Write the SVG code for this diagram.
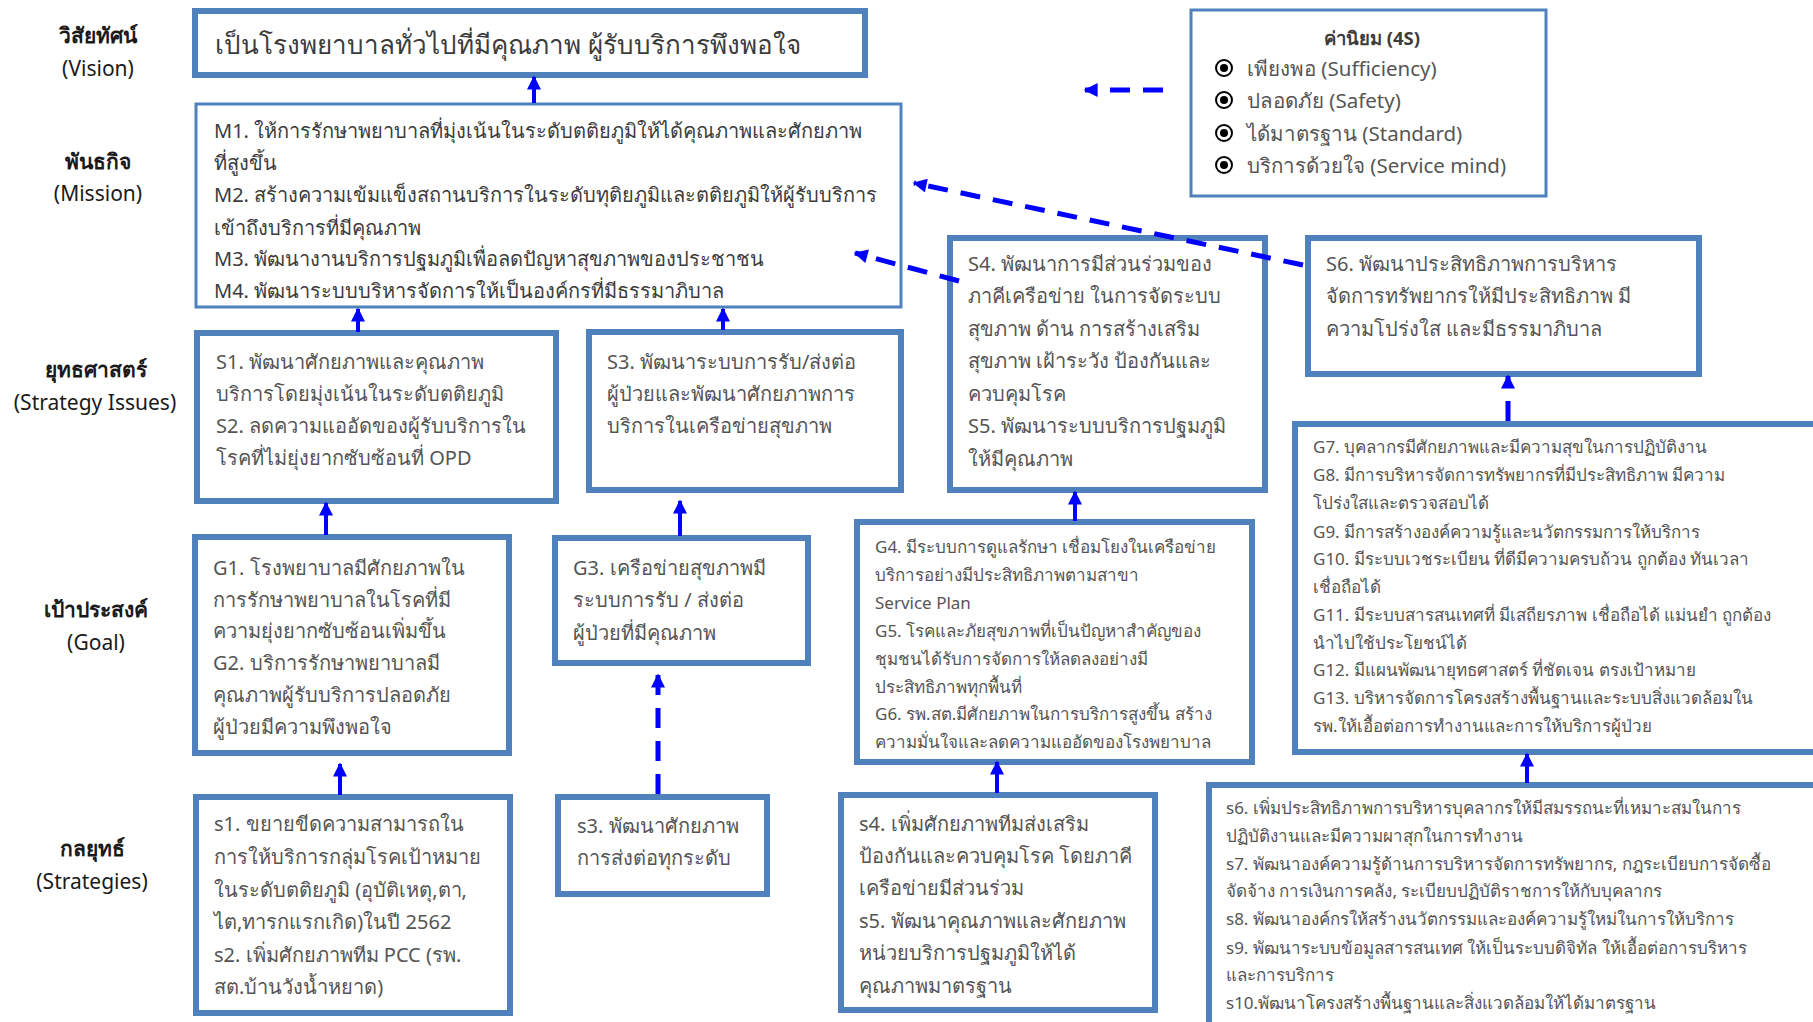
<svg xmlns="http://www.w3.org/2000/svg" width="1813" height="1022" viewBox="0 0 1813 1022">
<defs>
<style>
.box{fill:#fff;stroke:#4f81bd;stroke-width:6}
.thin{fill:#fff;stroke:#4f81bd;stroke-width:3}
.lbl{font-family:"Noto Sans","DejaVu Sans",sans-serif;font-size:21px;fill:#1a1a1a;text-anchor:middle;dominant-baseline:central}
.lb{font-weight:bold}
.t{font-family:"Noto Sans","DejaVu Sans",sans-serif;font-size:20px;fill:#555;dominant-baseline:central}
.tm{fill:#3c3c3c}
.ts{font-size:17px}
.con{fill:none;stroke:#0000ff;stroke-width:4}
.dash{fill:none;stroke:#0000ff;stroke-width:5;stroke-dasharray:20 13}
</style>
<marker id="ah" viewBox="0 0 10 10" refX="9" refY="5" markerUnits="userSpaceOnUse" markerWidth="15" markerHeight="14" orient="auto">
<path d="M0,0 L10,5 L0,10 z" fill="#0000ff"/>
</marker>
</defs>
<rect width="1813" height="1022" fill="#fff"/>

<g id="labels">
<text class="lbl lb" x="98" y="35">วิสัยทัศน์</text>
<text class="lbl" x="98" y="68">(Vision)</text>
<text class="lbl lb" x="98" y="161">พันธกิจ</text>
<text class="lbl" x="98" y="193">(Mission)</text>
<text class="lbl lb" x="96" y="369">ยุทธศาสตร์</text>
<text class="lbl" x="95" y="402">(Strategy Issues)</text>
<text class="lbl lb" x="96" y="609">เป้าประสงค์</text>
<text class="lbl" x="96" y="642">(Goal)</text>
<text class="lbl lb" x="92" y="848">กลยุทธ์</text>
<text class="lbl" x="92" y="881">(Strategies)</text>
</g>

<g id="vision">
<rect class="box" x="195" y="11" width="670" height="64"/>
<text class="t tm" x="215" y="44" style="font-size:26px">เป็นโรงพยาบาลทั่วไปที่มีคุณภาพ ผู้รับบริการพึงพอใจ</text>
</g>

<g id="mission">
<rect class="thin" x="196" y="104" width="705" height="203"/>
<text class="t tm"><tspan x="214" y="130">M1. ให้การรักษาพยาบาลที่มุ่งเน้นในระดับตติยภูมิให้ได้คุณภาพและศักยภาพ</tspan><tspan x="214" y="162">ที่สูงขึ้น</tspan><tspan x="214" y="194">M2. สร้างความเข้มแข็งสถานบริการในระดับทุติยภูมิและตติยภูมิให้ผู้รับบริการ</tspan><tspan x="214" y="227">เข้าถึงบริการที่มีคุณภาพ</tspan><tspan x="214" y="258">M3. พัฒนางานบริการปฐมภูมิเพื่อลดปัญหาสุขภาพของประชาชน</tspan><tspan x="214" y="290">M4. พัฒนาระบบบริหารจัดการให้เป็นองค์กรที่มีธรรมาภิบาล</tspan></text>
</g>

<g id="values">
<rect class="thin" x="1191" y="10" width="355" height="186"/>
<text class="t tm" x="1372" y="37" style="font-size:18.5px;font-weight:bold;text-anchor:middle">ค่านิยม (4S)</text>
<g fill="#fff" stroke="#000" stroke-width="2">
<circle cx="1224" cy="68" r="8"/><circle cx="1224" cy="100" r="8"/><circle cx="1224" cy="133" r="8"/><circle cx="1224" cy="165" r="8"/>
</g>
<g fill="#000">
<circle cx="1224" cy="68" r="4"/><circle cx="1224" cy="100" r="4"/><circle cx="1224" cy="133" r="4"/><circle cx="1224" cy="165" r="4"/>
</g>
<text class="t" style="font-size:20.5px"><tspan x="1247" y="68">เพียงพอ (Sufficiency)</tspan><tspan x="1247" y="100">ปลอดภัย (Safety)</tspan><tspan x="1247" y="133">ได้มาตรฐาน (Standard)</tspan><tspan x="1247" y="165">บริการด้วยใจ (Service mind)</tspan></text>
</g>

<g id="s1s2">
<rect class="box" x="197" y="333" width="359" height="168"/>
<text class="t"><tspan x="216" y="361">S1. พัฒนาศักยภาพและคุณภาพ</tspan><tspan x="216" y="393">บริการโดยมุ่งเน้นในระดับตติยภูมิ</tspan><tspan x="216" y="425">S2. ลดความแออัดของผู้รับบริการใน</tspan><tspan x="216" y="457">โรคที่ไม่ยุ่งยากซับซ้อนที่ OPD</tspan></text>
</g>

<g id="s3">
<rect class="box" x="589" y="332" width="312" height="158"/>
<text class="t"><tspan x="607" y="361">S3. พัฒนาระบบการรับ/ส่งต่อ</tspan><tspan x="607" y="393">ผู้ป่วยและพัฒนาศักยภาพการ</tspan><tspan x="607" y="425">บริการในเครือข่ายสุขภาพ</tspan></text>
</g>

<g id="s4s5">
<rect class="box" x="950" y="238" width="315" height="252"/>
<text class="t"><tspan x="968" y="263">S4. พัฒนาการมีส่วนร่วมของ</tspan><tspan x="968" y="295">ภาคีเครือข่าย ในการจัดระบบ</tspan><tspan x="968" y="328">สุขภาพ ด้าน การสร้างเสริม</tspan><tspan x="968" y="360">สุขภาพ เฝ้าระวัง ป้องกันและ</tspan><tspan x="968" y="393">ควบคุมโรค</tspan><tspan x="968" y="425">S5. พัฒนาระบบบริการปฐมภูมิ</tspan><tspan x="968" y="458">ให้มีคุณภาพ</tspan></text>
</g>

<g id="s6">
<rect class="box" x="1308" y="238" width="391" height="136"/>
<text class="t"><tspan x="1326" y="263">S6. พัฒนาประสิทธิภาพการบริหาร</tspan><tspan x="1326" y="295">จัดการทรัพยากรให้มีประสิทธิภาพ มี</tspan><tspan x="1326" y="328">ความโปร่งใส และมีธรรมาภิบาล</tspan></text>
</g>

<g id="g1g2">
<rect class="box" x="195" y="537" width="314" height="216"/>
<text class="t"><tspan x="213" y="567">G1. โรงพยาบาลมีศักยภาพใน</tspan><tspan x="213" y="599">การรักษาพยาบาลในโรคที่มี</tspan><tspan x="213" y="630">ความยุ่งยากซับซ้อนเพิ่มขึ้น</tspan><tspan x="213" y="662">G2. บริการรักษาพยาบาลมี</tspan><tspan x="213" y="694">คุณภาพผู้รับบริการปลอดภัย</tspan><tspan x="213" y="726">ผู้ป่วยมีความพึงพอใจ</tspan></text>
</g>

<g id="g3">
<rect class="box" x="555" y="538" width="253" height="125"/>
<text class="t"><tspan x="573" y="567">G3. เครือข่ายสุขภาพมี</tspan><tspan x="573" y="599">ระบบการรับ / ส่งต่อ</tspan><tspan x="573" y="632">ผู้ป่วยที่มีคุณภาพ</tspan></text>
</g>

<g id="g4g6">
<rect class="box" x="857" y="522" width="395" height="240"/>
<text class="t ts"><tspan x="875" y="546">G4. มีระบบการดูแลรักษา เชื่อมโยงในเครือข่าย</tspan><tspan x="875" y="574">บริการอย่างมีประสิทธิภาพตามสาขา</tspan><tspan x="875" y="602">Service Plan</tspan><tspan x="875" y="630">G5. โรคและภัยสุขภาพที่เป็นปัญหาสำคัญของ</tspan><tspan x="875" y="658">ชุมชนได้รับการจัดการให้ลดลงอย่างมี</tspan><tspan x="875" y="686">ประสิทธิภาพทุกพื้นที่</tspan><tspan x="875" y="713">G6. รพ.สต.มีศักยภาพในการบริการสูงขึ้น สร้าง</tspan><tspan x="875" y="741">ความมั่นใจและลดความแออัดของโรงพยาบาล</tspan></text>
</g>

<g id="g7g13">
<rect class="box" x="1295" y="424" width="530" height="328"/>
<text class="t ts"><tspan x="1313" y="446">G7. บุคลากรมีศักยภาพและมีความสุขในการปฏิบัติงาน</tspan><tspan x="1313" y="474">G8. มีการบริหารจัดการทรัพยากรที่มีประสิทธิภาพ มีความ</tspan><tspan x="1313" y="502">โปร่งใสและตรวจสอบได้</tspan><tspan x="1313" y="531">G9. มีการสร้างองค์ความรู้และนวัตกรรมการให้บริการ</tspan><tspan x="1313" y="558">G10. มีระบบเวชระเบียน ที่ดีมีความครบถ้วน ถูกต้อง ทันเวลา</tspan><tspan x="1313" y="586">เชื่อถือได้</tspan><tspan x="1313" y="614">G11. มีระบบสารสนเทศที่ มีเสถียรภาพ เชื่อถือได้ แม่นยำ ถูกต้อง</tspan><tspan x="1313" y="642">นำไปใช้ประโยชน์ได้</tspan><tspan x="1313" y="669">G12. มีแผนพัฒนายุทธศาสตร์ ที่ชัดเจน ตรงเป้าหมาย</tspan><tspan x="1313" y="697">G13. บริหารจัดการโครงสร้างพื้นฐานและระบบสิ่งแวดล้อมใน</tspan><tspan x="1313" y="725">รพ.ให้เอื้อต่อการทำงานและการให้บริการผู้ป่วย</tspan></text>
</g>

<g id="st1st2">
<rect class="box" x="196" y="797" width="314" height="216"/>
<text class="t"><tspan x="214" y="823">s1. ขยายขีดความสามารถใน</tspan><tspan x="214" y="856">การให้บริการกลุ่มโรคเป้าหมาย</tspan><tspan x="214" y="889">ในระดับตติยภูมิ (อุบัติเหตุ,ตา,</tspan><tspan x="214" y="921">ไต,ทารกแรกเกิด)ในปี 2562</tspan><tspan x="214" y="954">s2. เพิ่มศักยภาพทีม PCC (รพ.</tspan><tspan x="214" y="986">สต.บ้านวังน้ำหยาด)</tspan></text>
</g>

<g id="st3">
<rect class="box" x="558" y="797" width="209" height="97"/>
<text class="t"><tspan x="577" y="825">s3. พัฒนาศักยภาพ</tspan><tspan x="577" y="857">การส่งต่อทุกระดับ</tspan></text>
</g>

<g id="st4st5">
<rect class="box" x="841" y="795" width="314" height="215"/>
<text class="t"><tspan x="859" y="823">s4. เพิ่มศักยภาพทีมส่งเสริม</tspan><tspan x="859" y="855">ป้องกันและควบคุมโรค โดยภาคี</tspan><tspan x="859" y="887">เครือข่ายมีส่วนร่วม</tspan><tspan x="859" y="920">s5. พัฒนาคุณภาพและศักยภาพ</tspan><tspan x="859" y="952">หน่วยบริการปฐมภูมิให้ได้</tspan><tspan x="859" y="985">คุณภาพมาตรฐาน</tspan></text>
</g>

<g id="st6st10">
<rect class="box" x="1209" y="785" width="620" height="260"/>
<text class="t ts"><tspan x="1226" y="807">s6. เพิ่มประสิทธิภาพการบริหารบุคลากรให้มีสมรรถนะที่เหมาะสมในการ</tspan><tspan x="1226" y="835">ปฏิบัติงานและมีความผาสุกในการทำงาน</tspan><tspan x="1226" y="863">s7. พัฒนาองค์ความรู้ด้านการบริหารจัดการทรัพยากร, กฎระเบียบการจัดซื้อ</tspan><tspan x="1226" y="890">จัดจ้าง การเงินการคลัง, ระเบียบปฏิบัติราชการให้กับบุคลากร</tspan><tspan x="1226" y="918">s8. พัฒนาองค์กรให้สร้างนวัตกรรมและองค์ความรู้ใหม่ในการให้บริการ</tspan><tspan x="1226" y="947">s9. พัฒนาระบบข้อมูลสารสนเทศ ให้เป็นระบบดิจิทัล ให้เอื้อต่อการบริหาร</tspan><tspan x="1226" y="974">และการบริการ</tspan><tspan x="1226" y="1002">s10.พัฒนาโครงสร้างพื้นฐานและสิ่งแวดล้อมให้ได้มาตรฐาน</tspan></text>
</g>

<g id="connectors">
<line class="con" x1="534" y1="103" x2="534" y2="77" marker-end="url(#ah)"/>
<line class="con" x1="358" y1="332" x2="358" y2="309" marker-end="url(#ah)"/>
<line class="con" x1="723" y1="330" x2="723" y2="309" marker-end="url(#ah)"/>
<line class="con" x1="326" y1="535" x2="326" y2="503" marker-end="url(#ah)"/>
<line class="con" x1="680" y1="536" x2="680" y2="501" marker-end="url(#ah)"/>
<line class="con" x1="340" y1="795" x2="340" y2="764" marker-end="url(#ah)"/>
<line class="con" x1="997" y1="793" x2="997" y2="762" marker-end="url(#ah)"/>
<line class="con" x1="1075" y1="521" x2="1075" y2="492" marker-end="url(#ah)"/>
<line class="con" x1="1527" y1="783" x2="1527" y2="754" marker-end="url(#ah)"/>
<line class="dash" x1="658" y1="794" x2="658" y2="675" marker-end="url(#ah)"/>
<line class="dash" x1="1508" y1="421" x2="1508" y2="376" marker-end="url(#ah)"/>
<line class="dash" x1="1163" y1="90" x2="1085" y2="90" marker-end="url(#ah)"/>
<line class="dash" x1="959" y1="281" x2="855" y2="253" marker-end="url(#ah)"/>
<line class="dash" x1="1303" y1="265" x2="914" y2="183" marker-end="url(#ah)"/>
</g>
</svg>
